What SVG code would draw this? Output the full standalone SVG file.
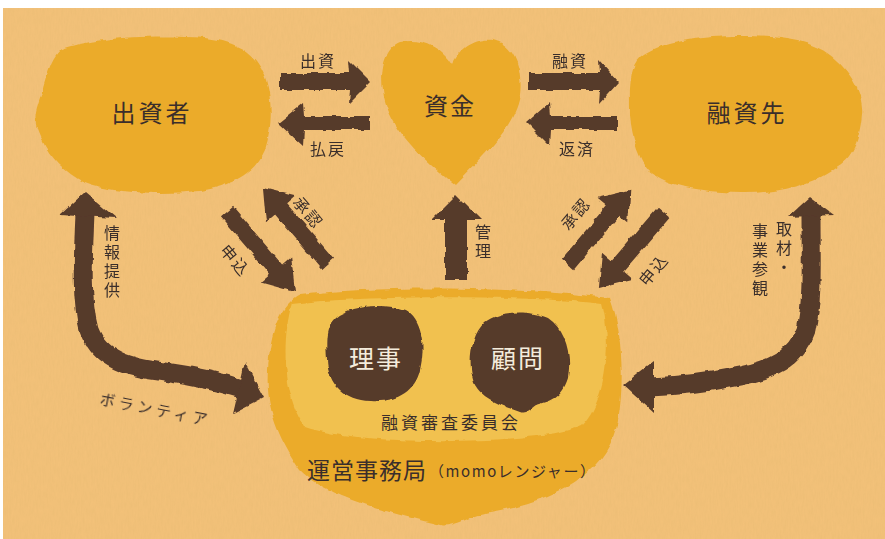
<svg xmlns="http://www.w3.org/2000/svg" width="885" height="539" viewBox="0 0 885 539">
  <defs>
    <style>
      .paper { fill: #f4c27a; }
      .blob { fill: #ebab2c; }
      .inner { fill: #f1c150; }
      .dark { fill: #573a2c; }
      .curve { fill: none; stroke: #573a2c; stroke-width: 19; stroke-linecap: butt; stroke-linejoin: round; }
      text { font-family: "Noto Sans CJK JP", "Noto Sans", sans-serif; fill: #3a2e2b; dominant-baseline: central; text-anchor: middle; }
      .node { font-size: 24px; letter-spacing: 3px; font-weight: 400; }
      .lbl { font-size: 16px; letter-spacing: 2px; }
      .vlbl { font-size: 16px; letter-spacing: 3px; writing-mode: vertical-rl; text-anchor: start; }
      .white { fill: #f4ecdc; font-size: 25px; font-weight: 400; letter-spacing: 2px; }
    </style>
    <filter id="rough" x="-5%" y="-5%" width="110%" height="110%">
      <feTurbulence type="fractalNoise" baseFrequency="0.09" numOctaves="2" seed="4" result="n"/>
      <feDisplacementMap in="SourceGraphic" in2="n" scale="5" xChannelSelector="R" yChannelSelector="G"/>
    </filter>
    <filter id="grain" x="0" y="0" width="100%" height="100%">
      <feTurbulence type="fractalNoise" baseFrequency="0.6 0.12" numOctaves="3" seed="7" result="t"/>
      <feColorMatrix in="t" type="matrix" values="0 0 0 0 0.6  0 0 0 0 0.4  0 0 0 0 0.12  0 0 0 0.35 0"/>
    </filter>
    <!-- straight arrow pointing along +x, tail at the origin -->
    <path id="arrow100" d="M0,-8 L72,-8 L72,-20 L100,0 L72,20 L72,8 L0,8 Z"/>
  </defs>

  <!-- paper background -->
  <rect class="paper" x="3" y="8" width="882" height="531"/>
  <rect x="3" y="8" width="882" height="531" filter="url(#grain)" opacity="0.5"/>

  <!-- investors -->
  <g id="investor">
    <path class="blob" filter="url(#rough)" d="M60,50 C90,38 150,34 205,38 C240,42 258,55 266,80 C272,100 273,125 265,150 C255,172 235,185 200,191 C160,195 110,193 85,183 C65,172 50,158 42,140 C36,128 33,120 38,105 C45,85 48,62 60,50 Z"/>
    <text class="node" x="152" y="111">出資者</text>
  </g>

  <!-- fund (heart) -->
  <g id="fund">
    <path class="blob" filter="url(#rough)" d="M452,65 C440,45 420,38 400,42 C385,48 380,70 383,90 C386,120 410,150 455,185 C490,150 515,125 520,95 C523,70 515,45 493,40 C475,38 460,48 452,65 Z"/>
    <text class="node" x="450" y="104" style="letter-spacing:2px">資金</text>
  </g>

  <!-- borrowers -->
  <g id="borrower">
    <path class="blob" filter="url(#rough)" d="M640,58 C660,42 700,36 740,36 C780,36 810,40 830,55 C852,72 864,95 862,115 C860,140 852,158 838,166 C815,185 775,194 740,193 C700,192 665,185 650,172 C640,160 632,140 630,115 C630,90 628,70 640,58 Z"/>
    <text class="node" x="747" y="111">融資先</text>
  </g>

  <!-- secretariat with the review committee -->
  <g id="office">
    <path class="blob" filter="url(#rough)" d="M300,295 C380,285 520,287 610,298 C622,330 625,380 618,420 C610,470 560,500 490,512 C465,518 450,528 440,525 C400,515 330,500 300,470 C280,440 265,410 268,370 C270,330 280,305 300,295 Z"/>
    <path class="inner" filter="url(#rough)" d="M292,304 C360,295 540,295 602,304 C612,340 607,400 582,426 C530,446 360,446 305,427 C285,402 280,342 292,304 Z"/>
    <g id="director">
      <path class="dark" filter="url(#rough)" d="M335,318 C350,305 385,303 405,310 C422,320 426,345 420,370 C415,392 395,403 370,401 C345,400 328,385 327,360 C326,340 325,328 335,318 Z"/>
      <text class="white" x="376" y="357">理事</text>
    </g>
    <g id="advisor">
      <path class="dark" filter="url(#rough)" d="M485,322 C500,310 530,310 548,318 C566,330 572,355 568,378 C562,398 548,402 535,405 C528,410 525,414 520,412 C500,405 482,398 475,385 C468,370 468,338 485,322 Z"/>
      <text class="white" x="518" y="357">顧問</text>
    </g>
    <text x="451" y="421" style="font-size:17px;letter-spacing:3px">融資審査委員会</text>
    <text x="367" y="469" style="font-size:23px;letter-spacing:1px">運営事務局</text>
    <text x="512" y="470" style="font-size:15px" textLength="166" lengthAdjust="spacing">（momoレンジャー）</text>
  </g>

  <!-- connectors -->
  <g id="connectors">
    <g class="dark" filter="url(#rough)">
      <!-- investment / refund -->
      <path d="M280,73 L350,73 L349,60 L371,82 L349,104 L350,90 L280,90 Z"/>
      <path d="M370,116 L304,116 L303,103 L278,123 L303,146 L304,130 L370,130 Z"/>
      <!-- lending / repayment -->
      <path d="M529,73 L600,73 L599,60 L619,82 L599,104 L600,90 L529,90 Z"/>
      <path d="M617,116 L551,116 L550,103 L527,123 L550,146 L551,130 L617,130 Z"/>
      <!-- application / approval, left side -->
      <use href="#arrow100" transform="translate(328,264) rotate(-130.6)"/>
      <use href="#arrow100" transform="translate(227,212) rotate(49.6) scale(1.05,1)"/>
      <!-- application / approval, right side -->
      <use href="#arrow100" transform="translate(568,264) rotate(-50) scale(0.97,1)"/>
      <use href="#arrow100" transform="translate(664,212) rotate(130.6)"/>
      <!-- management -->
      <path d="M445,280 L445,220 L431,220 L456,195 L481,220 L467,220 L467,280 Z"/>
      <!-- information / volunteers -->
      <path class="curve" d="M85,214 C83,260 81,300 89,330 C100,360 130,368 165,372 C200,377 220,382 242,389"/>
      <path d="M60,215 L85,192 L116,218 Z"/>
      <path d="M264,398 L245,362 L233,414 Z"/>
      <!-- coverage / site visits -->
      <path class="curve" d="M811,214 C811,260 813,300 806,330 C795,360 770,370 740,376 C710,382 680,386 650,387"/>
      <path d="M788,217 L810,197 L834,215 Z"/>
      <path d="M623,385 L654,361 L654,413 Z"/>
    </g>

    <text class="lbl" x="318" y="60">出資</text>
    <text class="lbl" x="328" y="148">払戻</text>
    <text class="lbl" x="570" y="60">融資</text>
    <text class="lbl" x="577" y="148">返済</text>

    <text class="lbl" x="309" y="212" transform="rotate(50 309 212)">承認</text>
    <text class="lbl" x="236" y="260" transform="rotate(50 236 260)">申込</text>
    <text class="lbl" x="575" y="213" transform="rotate(-50 575 213)">承認</text>
    <text class="lbl" x="653" y="269" transform="rotate(-50 653 269)">申込</text>

    <text class="vlbl" x="483" y="224">管理</text>
    <text class="vlbl" x="112" y="225">情報提供</text>
    <text class="vlbl" x="784" y="221">取材・</text>
    <text class="vlbl" x="760" y="223">事業参観</text>

    <text x="156" y="408" transform="rotate(11 156 408)" style="font-size:15px;letter-spacing:4px">ボランティア</text>
  </g>
</svg>
